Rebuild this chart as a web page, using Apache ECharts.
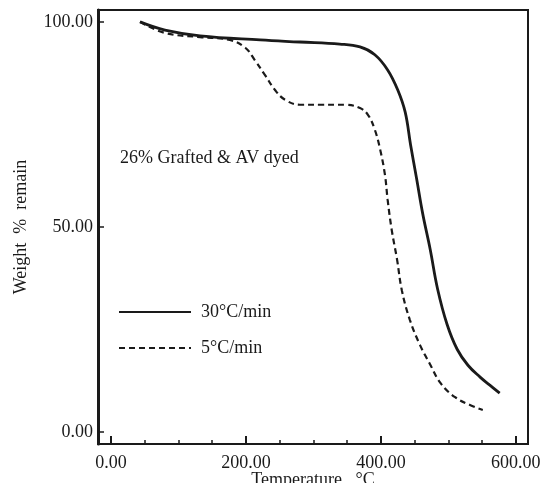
<!DOCTYPE html>
<html>
<head>
<meta charset="utf-8">
<script src="https://cdn.jsdelivr.net/npm/echarts@6/dist/echarts.min.js"></script>
<style>html,body{margin:0;padding:0;background:#fff}#c{width:548px;height:483px}</style>
</head>
<body>
<div id="c"></div>
<script>
var xTickMajor = [0, 200, 400, 600];
var xTickMinor = [50, 100, 150, 250, 300, 350, 450, 500, 550];
var yTicks = [0, 50, 100];
var seriesNames = ['30°C/min', '5°C/min'];
var annotation = '26% Grafted & AV dyed';

var fast30 = [
  [43, 100], [80, 98], [132, 96.6], [221, 95.6], [280, 95.1], [339, 94.6],
  [369, 93.9], [391, 92], [410, 88.3], [425, 83.4], [436, 78], [444, 70],
  [453, 61.7], [462, 53.2], [473, 44.6], [484, 34.9], [498, 26.3], [513, 20.2],
  [529, 16.3], [547, 13.4], [561, 11.5], [576, 9.5]
];
var slow5 = [
  [43, 100], [80, 97.3], [132, 96.3], [176, 95.6], [199, 93.7], [213, 90.7],
  [228, 87.1], [243, 83.4], [258, 81], [280, 79.8], [310, 79.8], [347, 79.8],
  [369, 79], [381, 77.3], [391, 73.7], [399, 68.8], [406, 62.7], [410, 56.6],
  [416, 49.3], [424, 42], [431, 34.6], [443, 27.3], [458, 21.2], [472, 16.8],
  [489, 11.8], [510, 8.5], [532, 6.6], [551, 5.4]
];

var font = 'Liberation Serif';
var ink = '#1a1a1a';
var chart = echarts.init(document.getElementById('c'));
chart.setOption({
  animation: false,
  backgroundColor: '#fff',
  title: {
    text: annotation, left: 120, top: 149, padding: 0,
    textStyle: {fontFamily: font, fontSize: 18, fontWeight: 'normal', color: ink}
  },
  legend: {
    orient: 'vertical', left: 118, top: 303, itemGap: 18, padding: 0,
    itemWidth: 72, itemHeight: 16,
    itemStyle: {opacity: 0},
    textStyle: {fontFamily: font, fontSize: 18, color: ink, padding: [0, 0, 0, 5]},
    data: seriesNames
  },
  grid: {left: 98, right: 20, top: 10, bottom: 39, outerBoundsMode: 'none', containLabel: false,
    show: true, borderColor: ink, borderWidth: 2, backgroundColor: 'transparent'},
  xAxis: [{
    type: 'value', min: -19.3, max: 618,
    name: 'Temperature   °C', nameLocation: 'middle', nameGap: 27, nameMoveOverlap: false,
    nameTextStyle: {fontFamily: font, fontSize: 18, color: ink, verticalAlign: 'top'},
    axisLine: {onZero: false, lineStyle: {color: ink, width: 2}},
    axisTick: {inside: true, length: 8, customValues: xTickMajor, lineStyle: {color: ink, width: 2}},
    axisLabel: {customValues: xTickMajor, formatter: function (v) { return v.toFixed(2); }, fontFamily: font, fontSize: 18, color: ink, margin: 10},
    splitLine: {show: false}
  }, {
    type: 'value', min: -19.3, max: 618, position: 'bottom',
    axisLine: {show: false, onZero: false},
    axisTick: {inside: true, length: 4, customValues: xTickMinor, lineStyle: {color: ink, width: 1.5}},
    axisLabel: {show: false},
    splitLine: {show: false}
  }],
  yAxis: {
    type: 'value', min: -2.9, max: 102.9,
    name: 'Weight  %  remain', nameLocation: 'middle', nameGap: 68, nameMoveOverlap: false,
    nameTextStyle: {fontFamily: font, fontSize: 18, color: ink},
    axisLine: {onZero: false, lineStyle: {color: ink, width: 3}},
    axisTick: {inside: true, length: 6, customValues: yTicks, lineStyle: {color: ink, width: 1.5}},
    axisLabel: {customValues: yTicks, formatter: function (v) { return v.toFixed(2); }, fontFamily: font, fontSize: 18, color: ink, margin: 5},
    splitLine: {show: false}
  },
  series: [{
    name: seriesNames[0], type: 'line', data: fast30, smooth: 0.4, symbol: 'none',
    lineStyle: {color: ink, width: 2.8, type: 'solid'}, itemStyle: {color: ink}
  }, {
    name: seriesNames[1], type: 'line', data: slow5, smooth: 0.4, symbol: 'none',
    lineStyle: {color: ink, width: 2.2, type: [6, 4]}, itemStyle: {color: ink}
  }]
});
</script>
</body>
</html>
